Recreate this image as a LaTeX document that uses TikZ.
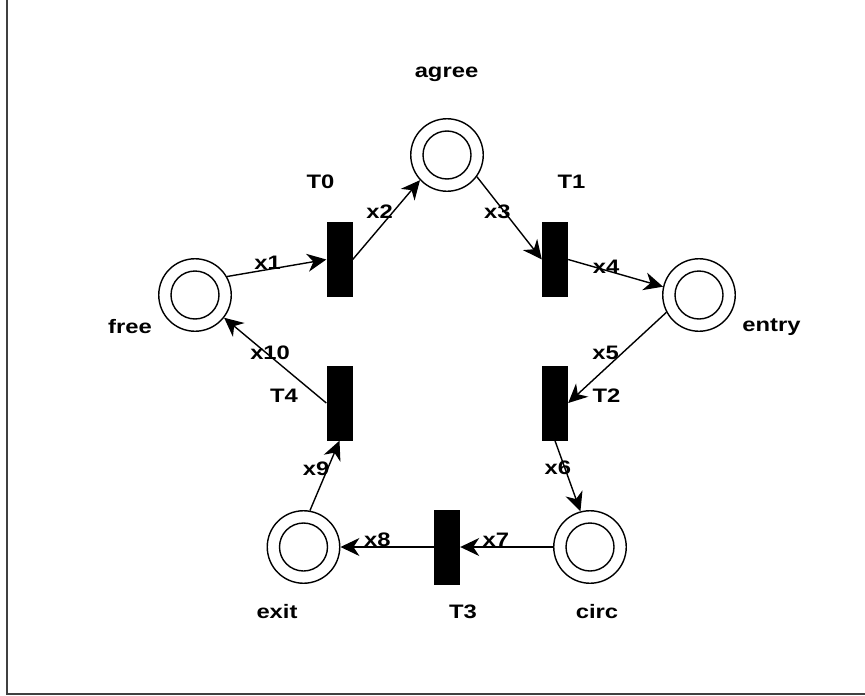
\documentclass[tikz,border=0pt]{standalone}
\usepackage{fontspec}
\setmainfont{Liberation Sans}[FakeStretch=1.22]
\usetikzlibrary{arrows.meta}
\begin{document}
\begin{tikzpicture}[x=1pt,y=-1pt,
  place/.style={circle, draw, line width=1.4pt, minimum size=72.5pt, inner sep=0pt,
    path picture={\draw[line width=1.4pt] (path picture bounding box.center) circle[radius=24pt];}},
  trans/.style={rectangle, fill=black, minimum width=26pt, minimum height=75pt, inner sep=0pt},
  txt/.style={font=\fontsize{19.5}{21}\selectfont\bfseries, inner sep=0pt},
  elab/.style={txt},
  arc/.style={line width=1.4pt, -{Stealth[length=19pt,width=18pt,inset=6pt]}}]
\useasboundingbox (0,0) rectangle (865,696);
\fill[white] (0,0) rectangle (865,696);
\draw[black!75, line width=2pt] (6.5,0) -- (6.5,694) -- (865,694);

% places
\node[place] (agree) at (447,155) {};
\node[place] (free)  at (195,295) {};
\node[place] (entry) at (699,295) {};
\node[place] (exit)  at (303.5,547) {};
\node[place] (circ)  at (590,547) {};

% transitions
\node[trans] (T0) at (339.5,259.5) {};
\node[trans] (T1) at (555,259.5) {};
\node[trans] (T2) at (555,403) {};
\node[trans] (T3) at (447,547) {};
\node[trans] (T4) at (339.5,403) {};

% names
\node[txt] (agreeL) at (446.5,74) {agree};
\node[txt] (freeL)  at (130,327) {free};
\node[txt] (entryL) at (771.5,327) {entry};
\node[txt] (exitL)  at (277,612) {exit};
\node[txt] (circL)  at (597,612) {circ};
\node[txt] (T0L) at (320.5,181.5) {T0};
\node[txt] (T1L) at (571.5,182) {T1};
\node[txt] (T2L) at (606.5,396) {T2};
\node[txt] (T3L) at (463,612) {T3};
\node[txt] (T4L) at (284,396) {T4};

% arcs
\draw[arc] (free.30) -- (T0.west) node[elab,pos=0.41,yshift=7pt] (l1) {x1};
\draw[arc] (T0.east) -- (agree.223) node[elab,pos=0.4,yshift=15.6pt] (l2) {x2};
\draw[arc] (agree.324) -- (T1.west) node[elab,pos=0.315,yshift=-9.5pt] (l3) {x3};
\draw[arc] (T1.east) -- (entry.167) node[elab,pos=0.4,yshift=4pt] (l4) {x4};
\draw[arc] (entry.208) -- (T2.east) node[elab,pos=0.62,yshift=16pt] (l5) {x5};
\draw[arc] (T2.south) -- (circ.105) node[elab,pos=0.385,xshift=-7pt] (l6) {x6};
\draw[arc] (circ.west) -- (T3.east) node[elab,pos=0.616,yshift=7pt] (l7) {x7};
\draw[arc] (T3.west) -- (exit.east) node[elab,pos=0.605,yshift=7pt] (l8) {x8};
\draw[arc] (exit.80) -- (T4.south) node[elab,pos=0.6,xshift=-11.5pt] (l9) {x9};
\draw[arc] (T4.west) -- (free.322) node[elab,pos=0.55,yshift=3pt] (l10) {x10};
\end{tikzpicture}
\end{document}
